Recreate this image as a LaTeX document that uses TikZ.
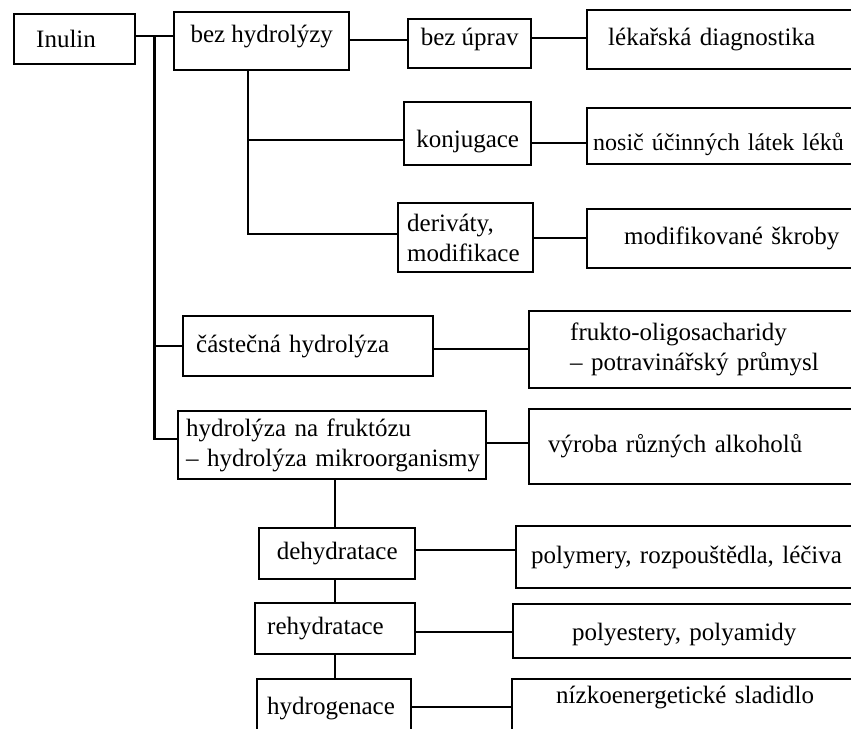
\documentclass[tikz,border=0pt]{standalone}
\usepackage{fontspec}
\setmainfont{Liberation Serif}
\usepackage{tikz}
\usetikzlibrary{positioning}

\begin{document}
\begin{tikzpicture}[x=0.5pt, y=-0.5pt,
    procBox/.style={rectangle, draw=black, line width=1.2pt, anchor=north west, inner sep=0pt, align=center, font=\fontsize{12.5}{15}\selectfont},
    leftBox/.style={procBox, align=left},
    linkLine/.style={draw=black, line width=1.1pt}
]
    \useasboundingbox (0,0) rectangle (851,728);
    \clip (0,0) rectangle (851,728);

    % levy sloupec
    \node[leftBox, inner xsep=11pt, text width=38.5pt, minimum height=25pt] (inulin) at (13,13) {Inulin};
    \node[procBox, minimum width=87.5pt, text height=15pt, text depth=14pt] (bezH) at (173,11) {bez hydrolýzy};
    \node[procBox, minimum width=61.5pt, text height=13pt, text depth=11.5pt] (bezU) at (407,18) {bez úprav};
    \node[procBox, minimum width=63.5pt, text height=22.5pt, text depth=9pt] (konj) at (403,101) {konjugace};
    \node[leftBox, inner xsep=4.5pt, text width=58.5pt, minimum height=34.5pt] (deriv) at (397,202) {deriváty,\\modifikace};
    \node[leftBox, inner xsep=6.5pt, text width=112pt, minimum height=30pt] (cast) at (182,315) {částečná hydrolýza};
    \node[leftBox, inner xsep=4pt, text width=146pt, minimum height=34pt] (hydro) at (177,410) {hydrolýza na fruktózu\\\mbox{– hydrolýza mikroorganismy}};
    \node[procBox, minimum width=78pt, minimum height=25.5pt] (dehyd) at (258,527) {dehydratace};
    \node[leftBox, inner xsep=6pt, text width=68pt, minimum height=25.5pt] (rehyd) at (254,602) {rehydratace};
    \node[leftBox, inner xsep=5pt, text width=67pt, text height=17.5pt, text depth=40pt] (hydrog) at (256,678) {hydrogenace};

    % pravy sloupec (vybiha z obrazku)
    \node[leftBox, inner xsep=10.5pt, text width=144pt, minimum height=29.5pt] (lekar) at (586,9) {lékařská diagnostika};
    \node[leftBox, inner xsep=3pt, text width=159pt, text height=21pt, text depth=7pt, font=\fontsize{12}{15}\selectfont] (nosic) at (586,107) {nosič účinných látek léků};
    \node[leftBox, inner xsep=18.5pt, text width=128pt, minimum height=29.5pt] (modif) at (586,208) {modifikované škroby};
    \node[leftBox, inner xsep=20.5pt, text width=145pt, minimum height=38.5pt] (frukt) at (528,310) {frukto-oligosacharidy\\– potravinářský průmysl};
    \node[leftBox, inner xsep=9.5pt, text width=167pt, text height=21.5pt, text depth=16pt] (vyrob) at (528,408) {výroba různých alkoholů};
    \node[leftBox, inner xsep=7.5pt, text width=177.5pt, minimum height=31pt] (polym) at (515,525) {polymery, rozpouštědla, léčiva};
    \node[leftBox, inner xsep=29.5pt, text width=135pt, text height=18pt, text depth=9pt] (polye) at (512,603) {polyestery, polyamidy};
    \node[leftBox, inner xsep=22pt, text width=150.5pt, text height=12pt, text depth=40pt] (nizko) at (511,678) {nízkoenergetické sladidlo};

    \coordinate (trunk) at ([xshift=9pt, yshift=1.5pt]inulin.east);
    \coordinate (bhFoot) at ([xshift=37.5pt]bezH.south west);
    \coordinate (spine) at ([xshift=1.5pt]hydro.south);

    \draw[linkLine] (inulin.east |- trunk) -- (bezH.west |- trunk);
    \draw[linkLine] (trunk) |- (cast.west);
    \draw[linkLine] (trunk) |- ([yshift=3pt]hydro.west);
    \draw[linkLine] ([yshift=-14.5pt]bezH.north east) coordinate (p0) -- (p0 -| bezU.west);
    \draw[linkLine] ([yshift=-10pt]bezU.north east) coordinate (p1) -- (p1 -| lekar.west);
    \draw[linkLine] (bhFoot) |- ([yshift=-19.5pt]konj.north west);
    \draw[linkLine] ([yshift=-21pt]konj.north east) coordinate (p2) -- (p2 -| nosic.west);
    \draw[linkLine] (bhFoot) |- ([yshift=2pt]deriv.west);
    \draw[linkLine] (deriv.east) -- (deriv.east -| modif.west);
    \draw[linkLine] ([yshift=-1.5pt]cast.east) coordinate (p3) -- (p3 -| frukt.west);
    \draw[linkLine] ([yshift=1pt]hydro.east) coordinate (p4) -- (p4 -| vyrob.west);
    \draw[linkLine] (hydro.south -| spine) -- (dehyd.north -| spine);
    \draw[linkLine] (dehyd.south -| spine) -- (rehyd.north -| spine);
    \draw[linkLine] (rehyd.south -| spine) -- (hydrog.north -| spine);
    \draw[linkLine] ([yshift=2pt]dehyd.east) coordinate (p5) -- (p5 -| polym.west);
    \draw[linkLine] ([yshift=-1.5pt]rehyd.east) coordinate (p6) -- (p6 -| polye.west);
    \draw[linkLine] ([yshift=-14.5pt]hydrog.north east) coordinate (p7) -- (p7 -| nizko.west);
\end{tikzpicture}
\end{document}
